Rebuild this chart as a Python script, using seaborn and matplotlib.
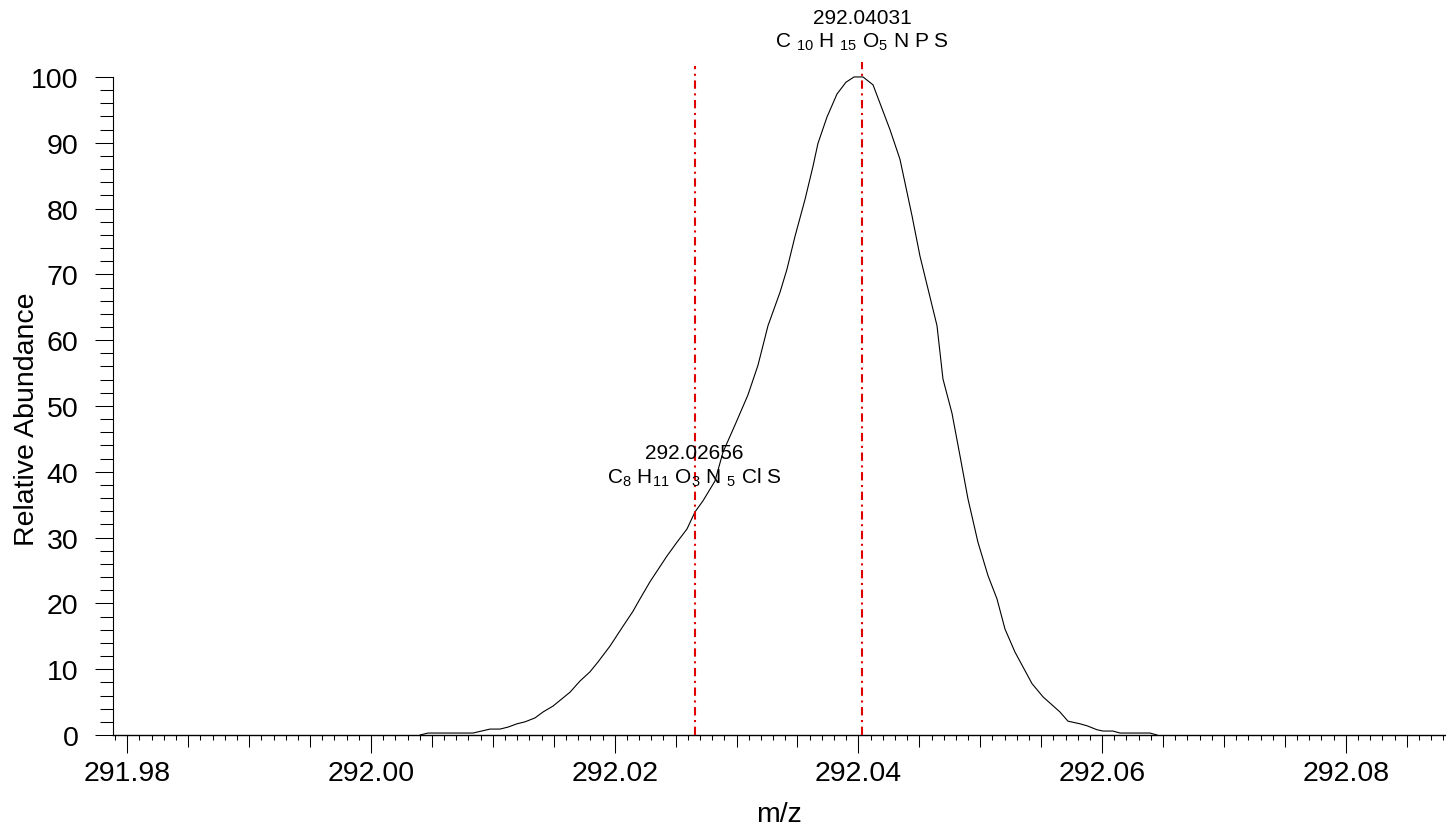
import numpy as np
import pandas as pd
import matplotlib
matplotlib.use("Agg")
import matplotlib.pyplot as plt
from matplotlib.ticker import MultipleLocator, FixedLocator, NullFormatter, NullLocator
import seaborn as sns

# ---- data ----
mz = [292.00402, 292.00468, 292.00837, 292.00977, 292.01059, 292.01124, 292.01198,
      292.01264, 292.01346, 292.01412, 292.01494, 292.01633, 292.01715, 292.01797,
      292.01863, 292.01961, 292.02060, 292.02150, 292.02208, 292.02290, 292.02429,
      292.02511, 292.02593, 292.02659, 292.02725, 292.02823, 292.02889, 292.02987,
      292.03094, 292.03176, 292.03258, 292.03357, 292.03414, 292.03480, 292.03562,
      292.03627, 292.03668, 292.03742, 292.03824, 292.03898, 292.03964, 292.04038,
      292.04120, 292.04259, 292.04341, 292.04440, 292.04505, 292.04645, 292.04694,
      292.04768, 292.04834, 292.04899, 292.04981, 292.05064, 292.05137, 292.05203,
      292.05285, 292.05425, 292.05515, 292.05654, 292.05720, 292.05819, 292.05876,
      292.05958, 292.06007, 292.06089, 292.06147, 292.06393, 292.06451]
abundance = [0.0, 0.3, 0.3, 0.9, 0.9, 1.2, 1.7,
             2.0, 2.6, 3.5, 4.4, 6.5, 8.2, 9.6,
             11.1, 13.5, 16.3, 18.8, 20.7, 23.3, 27.2,
             29.3, 31.3, 33.9, 35.6, 38.6, 43.0, 47.1,
             51.7, 56.2, 62.2, 67.3, 70.8, 75.8, 81.4,
             86.4, 89.9, 93.9, 97.4, 99.2, 100.0, 100.0,
             98.8, 92.0, 87.5, 78.9, 72.8, 62.2, 54.1,
             48.9, 42.4, 35.9, 29.3, 24.2, 20.7, 16.1,
             12.6, 7.8, 5.8, 3.5, 2.1, 1.7, 1.4,
             0.8, 0.6, 0.6, 0.3, 0.3, 0.0]

peak_mz = [292.04031, 292.02656]
peak_formula = [r"C $_{10}$ H $_{15}$ O$_{5}$ N P S", r"C$_{8}$ H$_{11}$ O$_{3}$ N $_{5}$ Cl S"]
x_major_labels = [291.98, 292.00, 292.02, 292.04, 292.06, 292.08]
y_ticks = [0, 10, 20, 30, 40, 50, 60, 70, 80, 90, 100]

# ---- style ----
sns.set_theme(style="ticks")
plt.rcParams["font.family"] = ["Liberation Sans", "DejaVu Sans"]
plt.rcParams["mathtext.fontset"] = "custom"
plt.rcParams["mathtext.rm"] = "Liberation Sans"
plt.rcParams["mathtext.it"] = "Liberation Sans:italic"
plt.rcParams["mathtext.bf"] = "Liberation Sans:bold"
plt.rcParams["mathtext.default"] = "regular"
for k in ["text.color", "axes.labelcolor", "xtick.color", "ytick.color", "axes.edgecolor"]:
    plt.rcParams[k] = "black"

W, H = 1446, 828
fig = plt.figure(figsize=(W / 100, H / 100), dpi=100)
ax = fig.add_axes([113 / W, (828 - 736) / H, (1446 - 113) / W, (736 - 61.5) / H])

df = pd.DataFrame({"mz": mz, "abundance": abundance})
sns.lineplot(data=df, x="mz", y="abundance", ax=ax, color="black", linewidth=0.8,
             estimator=None, sort=False)

ax.set_xlim(291.978826, 292.088223)
ax.set_ylim(0, 102.5)

# red dash-dot marker lines
tops = [102.3, 101.7]
for m, t in zip(peak_mz, tops):
    ax.vlines(m, 0, t, colors="#e00000", linewidth=1.5,
              linestyles=[(0, (4, 2.2, 1, 2.2))], zorder=3)

# annotations
ax.text(peak_mz[0], 109.1, f"{peak_mz[0]:.5f}", ha="center", va="center",
        fontsize=15, clip_on=False)
ax.text(peak_mz[0], 105.4, peak_formula[0], ha="center", va="center",
        fontsize=15, clip_on=False)
ax.text(peak_mz[1], 43.0, f"{peak_mz[1]:.5f}", ha="center", va="center",
        fontsize=15)
ax.text(peak_mz[1], 39.3, peak_formula[1], ha="center", va="center",
        fontsize=15)

# spines
for s in ["top", "right"]:
    ax.spines[s].set_visible(False)
ax.spines["left"].set_bounds(0, 100)
ax.spines["left"].set_linewidth(0.8)
ax.spines["bottom"].set_linewidth(1.0)

# y ticks
ax.yaxis.set_major_locator(FixedLocator(y_ticks))
ax.yaxis.set_minor_locator(FixedLocator(list(range(0, 101, 2))))
ax.set_yticklabels([str(v) for v in y_ticks])
ax.tick_params(axis="y", which="major", length=13, width=0.75, labelsize=20.5, pad=12,
               colors="black", direction="out", left=True)
ax.tick_params(axis="y", which="minor", length=9.5, width=0.75, direction="out", left=True)

# x ticks: medium (0.005) and minor (0.001) on main axis, no labels
ax.xaxis.set_major_locator(MultipleLocator(0.005))
ax.xaxis.set_minor_locator(MultipleLocator(0.001))
ax.xaxis.set_major_formatter(NullFormatter())
ax.tick_params(axis="x", which="major", length=8.6, width=0.75, direction="out", bottom=True)
ax.tick_params(axis="x", which="minor", length=3.6, width=0.75, direction="out", bottom=True)

# long labelled ticks every 0.02
sec = ax.secondary_xaxis("bottom")
sec.set_xticks(x_major_labels)
sec.set_xticklabels([f"{v:.2f}" for v in x_major_labels])
sec.xaxis.set_minor_locator(NullLocator())
sec.tick_params(axis="x", which="major", length=13, width=0.75, labelsize=20.5, pad=5,
                direction="out", colors="black")
sec.spines["bottom"].set_visible(False)

ax.set_xlabel("m/z", fontsize=20.5)
ax.xaxis.set_label_coords(0.4996, -0.117)
ax.xaxis.label.set_va("center")
ax.set_ylabel("Relative Abundance", fontsize=20.5)
ax.yaxis.set_label_coords(-0.0645, 0.47)
ax.yaxis.label.set_va("center")

fig.savefig("out.png", dpi=100, facecolor="white")
